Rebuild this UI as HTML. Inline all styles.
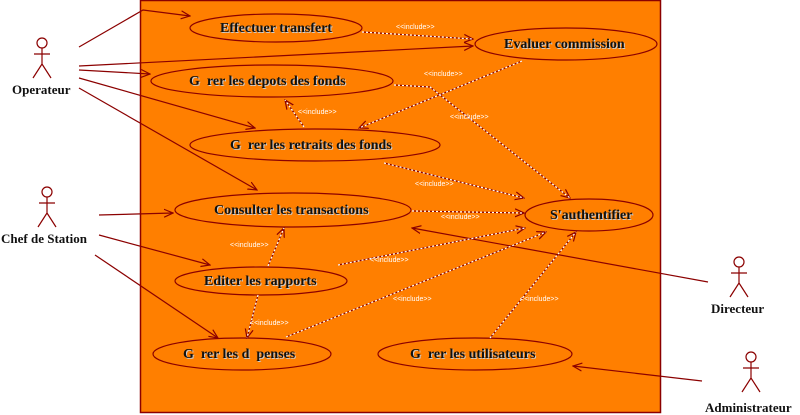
<!DOCTYPE html>
<html><head><meta charset="utf-8"><style>
html,body{margin:0;padding:0;background:#fff;}
svg{display:block;}
text{white-space:pre;}
.t{font-family:"Liberation Serif",serif;font-weight:bold;font-size:14px;fill:#111;}
.s{font-family:"Liberation Serif",serif;font-weight:bold;font-size:14px;fill:#ccc;}
.i{font-family:"Liberation Sans",sans-serif;font-size:7px;fill:#fff;}
.a{stroke:#8b0000;stroke-width:1.2;fill:none;}
.d{stroke:#fff;stroke-width:1.2;fill:none;stroke-dasharray:2,2;}
.d2{stroke:#8b0000;stroke-width:1.2;fill:none;}
</style></head><body>
<svg width="800" height="415" viewBox="0 0 800 415" xmlns="http://www.w3.org/2000/svg">
<defs>
<marker id="ar" markerWidth="10" markerHeight="10" refX="9" refY="5" orient="auto" markerUnits="userSpaceOnUse"><path d="M0,1 L9,5 L0,9" fill="none" stroke="#8b0000" stroke-width="1.2"/></marker>
<g id="paths" fill="none">
<path id="p1" d="M362,32 L473,39"/>
<path id="p2" d="M522,61 L359,128"/>
<path id="p3" d="M394,85 L430,87 L570,198"/>
<path id="p4" d="M304,127 L285,100"/>
<path id="p5" d="M384,163 L524,198"/>
<path id="p6" d="M412,211 L524,213"/>
<path id="p7" d="M338,265 L525,228"/>
<path id="p8" d="M268,266 L284,228"/>
<path id="p9" d="M258,295 L247,338"/>
<path id="p10" d="M286,337 L546,232"/>
<path id="p11" d="M490,338 L576,232"/>
</g>
</defs>
<rect x="140.5" y="0.5" width="520" height="412" fill="#ff7f00" stroke="#8b0000" stroke-width="1.5"/>

<g fill="none" stroke="#8b0000" stroke-width="1.2">
<ellipse cx="276" cy="28" rx="86" ry="14"/>
<ellipse cx="566" cy="44" rx="91" ry="16"/>
<ellipse cx="272" cy="81" rx="121" ry="16"/>
<ellipse cx="315" cy="145" rx="125" ry="16"/>
<ellipse cx="293" cy="210" rx="118" ry="17"/>
<ellipse cx="589" cy="215" rx="64" ry="16"/>
<ellipse cx="261" cy="281" rx="86" ry="14"/>
<ellipse cx="242" cy="354" rx="89" ry="16"/>
<ellipse cx="475" cy="354" rx="97" ry="16"/>
</g>

<g class="a" marker-end="url(#ar)">
<path d="M79,47 L143,10 L190,16"/>
<path d="M79,66 L473,46"/>
<path d="M79,70 L150,74"/>
<path d="M79,78 L255,128"/>
<path d="M79,88 L257,190"/>
<path d="M99,215 L173,213"/>
<path d="M99,235 L210,265"/>
<path d="M95,255 L218,338"/>
<path d="M708,282 L412,228"/>
<path d="M702,381 L573,366"/>
</g>

<g class="d2" marker-end="url(#ar)">
<use href="#p1"/><use href="#p2"/><use href="#p3"/><use href="#p4"/><use href="#p5"/><use href="#p6"/><use href="#p7"/><use href="#p8"/><use href="#p9"/><use href="#p10"/><use href="#p11"/>
</g>
<g class="d">
<use href="#p1"/><use href="#p2"/><use href="#p3"/><use href="#p4"/><use href="#p5"/><use href="#p6"/><use href="#p7"/><use href="#p8"/><use href="#p9"/><use href="#p10"/><use href="#p11"/>
</g>

<g class="i">
<text x="396" y="29">&lt;&lt;include&gt;&gt;</text>
<text x="424" y="76">&lt;&lt;include&gt;&gt;</text>
<text x="450" y="119">&lt;&lt;include&gt;&gt;</text>
<text x="298" y="114">&lt;&lt;include&gt;&gt;</text>
<text x="415" y="186">&lt;&lt;include&gt;&gt;</text>
<text x="441" y="219">&lt;&lt;include&gt;&gt;</text>
<text x="370" y="262">&lt;&lt;include&gt;&gt;</text>
<text x="230" y="247">&lt;&lt;include&gt;&gt;</text>
<text x="250" y="325">&lt;&lt;include&gt;&gt;</text>
<text x="393" y="301">&lt;&lt;include&gt;&gt;</text>
<text x="520" y="301">&lt;&lt;include&gt;&gt;</text>
</g>

<g class="s">
<text x="221" y="33">Effectuer transfert</text>
<text x="505" y="49">Evaluer commission</text>
<text x="190" y="86">G  rer les depots des fonds</text>
<text x="231" y="150">G  rer les retraits des fonds</text>
<text x="215" y="215">Consulter les transactions</text>
<text x="551" y="220">S'authentifier</text>
<text x="205" y="286">Editer les rapports</text>
<text x="184" y="359">G  rer les d  penses</text>
<text x="411" y="359">G  rer les utilisateurs</text>
</g>
<g class="t">
<text x="220" y="32">Effectuer transfert</text>
<text x="504" y="48">Evaluer commission</text>
<text x="189" y="85">G  rer les depots des fonds</text>
<text x="230" y="149">G  rer les retraits des fonds</text>
<text x="214" y="214">Consulter les transactions</text>
<text x="550" y="219">S'authentifier</text>
<text x="204" y="285">Editer les rapports</text>
<text x="183" y="358">G  rer les d  penses</text>
<text x="410" y="358">G  rer les utilisateurs</text>
</g>

<g stroke="#8b0000" stroke-width="1.2" fill="none">
<g transform="translate(42,0)"><circle cx="0" cy="43" r="5"/><path d="M0,48 V64 M-8,54 H8 M-9,78 L0,64 L9,78"/></g>
<g transform="translate(47,149)"><circle cx="0" cy="43" r="5"/><path d="M0,48 V64 M-8,54 H8 M-9,78 L0,64 L9,78"/></g>
<g transform="translate(739,219)"><circle cx="0" cy="43" r="5"/><path d="M0,48 V64 M-8,54 H8 M-9,78 L0,64 L9,78"/></g>
<g transform="translate(751,314)"><circle cx="0" cy="43" r="5"/><path d="M0,48 V64 M-8,54 H8 M-9,78 L0,64 L9,78"/></g>
</g>
<g class="t" style="font-size:13px">
<text x="12" y="94">Operateur</text>
<text x="1" y="243">Chef de Station</text>
<text x="711" y="313">Directeur</text>
<text x="705" y="412">Administrateur</text>
</g>
</svg>
</body></html>
